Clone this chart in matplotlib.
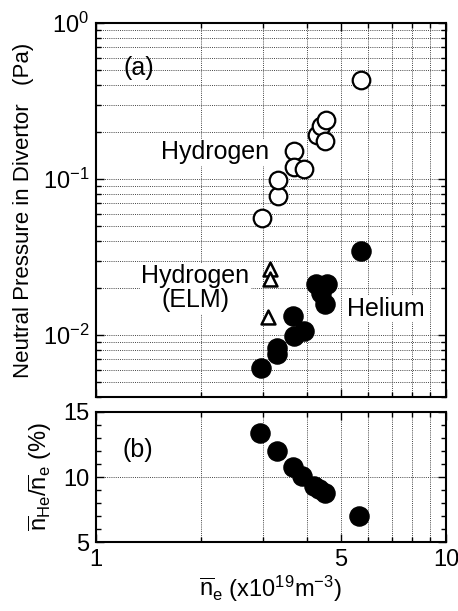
import matplotlib
matplotlib.use("Agg")
import matplotlib.pyplot as plt
import numpy as np
from matplotlib.ticker import FixedLocator, NullFormatter, FixedFormatter, LogLocator, MultipleLocator

plt.rcParams['font.family'] = ['Liberation Sans', 'DejaVu Sans']
plt.rcParams['mathtext.fontset'] = 'custom'
plt.rcParams['mathtext.rm'] = 'Liberation Sans'
plt.rcParams['mathtext.it'] = 'Liberation Sans:italic'
plt.rcParams['mathtext.bf'] = 'Liberation Sans:bold'

# Data
h_ne = [2.98, 3.32, 3.32, 3.69, 3.68, 3.93, 4.27, 4.40, 4.54, 4.52, 5.71]
h_p = [0.056, 0.078, 0.098, 0.150, 0.120, 0.115, 0.190, 0.220, 0.240, 0.175, 0.434]

elm_ne = [3.14, 3.14, 3.10]
elm_p = [0.0265, 0.0228, 0.0130]

he_ne = [2.96, 3.30, 3.30, 3.68, 3.66, 3.93, 4.24, 4.56, 4.40, 4.50, 5.71]
he_p = [0.0061, 0.00751, 0.00828, 0.00986, 0.0133, 0.0106, 0.0212, 0.0212, 0.0187, 0.0157, 0.0347]

frac_ne = [2.95, 3.29, 3.66, 3.88, 4.21, 4.35, 4.50, 5.64]
frac_pct = [13.4, 12.0, 10.8, 10.1, 9.3, 9.05, 8.8, 7.0]

x_major = [1, 5, 10]
x_major_labels = ['1', '5', '10']
x_minor = [2, 3, 4, 6, 7, 8, 9]
y_top_major = [1e-2, 1e-1, 1e0]
y_top_labels = [r'$10^{-2}$', r'$10^{-1}$', r'$10^{0}$']
y_bot_major = [5, 10, 15]

fig = plt.figure(figsize=(4.58, 6.11), dpi=100)
ax1 = fig.add_axes([0.2096, 0.3502, 0.764, 0.6122])
ax2 = fig.add_axes([0.2096, 0.1129, 0.764, 0.2128])

grid_kw = dict(color='#444444', linestyle=(0, (1, 1.2)), linewidth=0.7)

for ax in (ax1, ax2):
    ax.set_xscale('log')
    ax.set_xlim(1, 10)
    ax.xaxis.set_major_locator(FixedLocator(x_major))
    ax.xaxis.set_minor_locator(FixedLocator(x_minor))
    ax.xaxis.set_minor_formatter(NullFormatter())
    ax.tick_params(which='both', direction='in', top=True, right=True, width=1.0)
    ax.tick_params(which='major', length=6, labelsize=17, pad=5)
    ax.tick_params(which='minor', length=3.5)
    for s in ax.spines.values():
        s.set_linewidth(1.5)

# Top panel
ax1.set_yscale('log')
ax1.set_ylim(0.004, 1.0)
ax1.yaxis.set_major_locator(FixedLocator(y_top_major))
ax1.yaxis.set_major_formatter(FixedFormatter(y_top_labels))
ax1.yaxis.set_minor_locator(LogLocator(base=10, subs=np.arange(2, 10)))
ax1.yaxis.set_minor_formatter(NullFormatter())
ax1.xaxis.set_major_formatter(NullFormatter())
ax1.grid(True, which='both', axis='both', **grid_kw)
ax1.set_axisbelow(True)

ax1.scatter(h_ne, h_p, s=160, facecolors='white', edgecolors='black', linewidths=1.6, zorder=3)
ax1.scatter(elm_ne, elm_p, marker='^', s=100, facecolors='white', edgecolors='black', linewidths=1.8, zorder=3)
ax1.scatter(he_ne, he_p, s=190, color='black', zorder=3)

ax1.text(1.2, 0.514, '(a)', fontsize=18, ha='left', va='center')
ax1.text(2.185, 0.148, 'Hydrogen', fontsize=18, ha='center', va='center',
         bbox=dict(facecolor='white', edgecolor='none', pad=1))
ax1.text(1.92, 0.0199, 'Hydrogen\n(ELM)', fontsize=18, ha='center', va='center', linespacing=1.0,
         bbox=dict(facecolor='white', edgecolor='none', pad=1))
ax1.text(6.73, 0.0147, 'Helium', fontsize=18, ha='center', va='center',
         bbox=dict(facecolor='white', edgecolor='none', pad=1))
ax1.set_ylabel('Neutral Pressure in Divertor   (Pa)', fontsize=16, labelpad=6)

# Bottom panel
ax2.set_ylim(5, 15)
ax2.yaxis.set_major_locator(FixedLocator(y_bot_major))
ax2.yaxis.set_minor_locator(MultipleLocator(1))
ax2.xaxis.set_major_formatter(FixedFormatter(x_major_labels))
ax2.grid(True, which='minor', axis='x', **grid_kw)
ax2.grid(True, which='major', axis='both', **grid_kw)
ax2.set_axisbelow(True)
ax2.scatter(frac_ne, frac_pct, s=190, color='black', zorder=3)
ax2.text(1.187, 12.08, '(b)', fontsize=18, ha='left', va='center')
ax2.set_ylabel(r'$\overline{\mathrm{n}}_{\mathrm{He}}/\overline{\mathrm{n}}_{\mathrm{e}}$ (%)', fontsize=17, labelpad=6)
ax2.set_xlabel(r'$\overline{\mathrm{n}}_{\mathrm{e}}$ (x10$^{19}$m$^{-3}$)', fontsize=17, labelpad=2)

fig.savefig('out.png', dpi=100)
